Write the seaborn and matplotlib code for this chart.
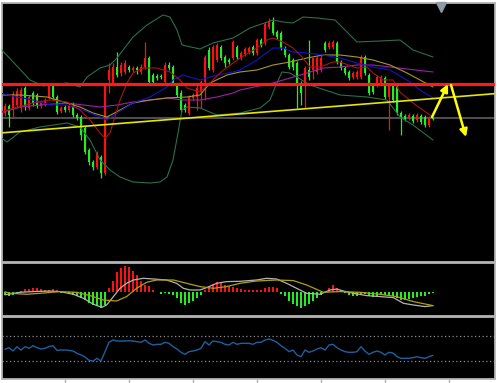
import matplotlib
matplotlib.use("Agg")
import matplotlib.pyplot as plt
import seaborn as sns
import numpy as np
import pandas as pd

# === STYLE ===
sns.set_theme(style="dark", rc={"axes.facecolor": "black", "figure.facecolor": "white",
                                "axes.edgecolor": "#b4b4b4", "axes.grid": False})

# === PRICE DATA (one candle per bar) ===
OPEN = [187, 194, 190, 195, 192, 212, 192, 207, 205, 194, 196, 203, 214, 203, 189, 193, 190, 196, 185, 183,
        172, 150, 138, 133, 143, 127, 220, 217, 233, 227, 228, 233, 230, 232, 228, 233, 242, 225, 224, 224,
        218, 235, 233, 215, 207, 195, 187, 202, 203, 208, 218, 250, 230, 240, 253, 243, 240, 242, 253, 242,
        246, 248, 253, 247, 260, 257, 273, 278, 268, 267, 252, 245, 240, 237, 217, 215, 230, 230, 228, 230,
        257, 253, 253, 257, 238, 232, 228, 223, 223, 223, 243, 225, 215, 215, 217, 222, 203, 215, 215, 187,
        184, 182, 184, 180, 184, 183, 175, 182]
HIGH = [197, 196, 209, 212, 213, 214, 205, 209, 207, 200, 202, 216, 216, 205, 194, 195, 197, 198, 187, 185,
        174, 152, 140, 149, 145, 217, 237, 237, 248, 238, 240, 235, 234, 234, 236, 258, 244, 227, 226, 226,
        238, 238, 235, 217, 210, 197, 205, 207, 215, 220, 245, 253, 255, 257, 255, 245, 242, 260, 255, 249,
        253, 254, 255, 262, 262, 278, 282, 283, 270, 269, 254, 247, 242, 239, 219, 234, 260, 232, 244, 245,
        259, 259, 260, 259, 240, 234, 230, 229, 230, 245, 245, 227, 217, 225, 225, 224, 217, 217, 217, 189,
        186, 187, 186, 187, 186, 185, 184, 183]
LOW = [184, 173, 182, 192, 188, 190, 190, 194, 192, 192, 194, 201, 201, 186, 187, 188, 188, 183, 180, 160,
       146, 135, 130, 131, 122, 125, 207, 214, 223, 224, 226, 228, 228, 226, 226, 231, 216, 216, 220, 221,
       216, 230, 215, 203, 188, 188, 185, 200, 190, 192, 200, 230, 228, 238, 240, 233, 236, 240, 241, 240,
       244, 246, 245, 245, 253, 255, 271, 265, 261, 250, 243, 231, 230, 192, 195, 192, 220, 221, 226, 228,
       248, 251, 251, 236, 230, 225, 220, 221, 221, 221, 225, 205, 206, 213, 215, 201, 170, 198, 185, 165,
       179, 180, 177, 178, 176, 173, 173, 180]
CLOSE = [194, 185, 206, 209, 210, 193, 203, 197, 194, 198, 200, 214, 203, 188, 192, 190, 195, 185, 182, 165,
         148, 138, 133, 147, 127, 216, 230, 233, 225, 235, 237, 230, 232, 230, 233, 242, 218, 218, 222, 223,
         235, 232, 217, 205, 190, 190, 203, 205, 212, 218, 243, 232, 253, 255, 242, 237, 238, 258, 243, 247,
         251, 252, 247, 260, 255, 276, 279, 267, 263, 252, 245, 233, 233, 217, 207, 232, 223, 242, 242, 242,
         250, 257, 258, 238, 232, 227, 222, 227, 228, 243, 227, 207, 208, 223, 223, 203, 215, 200, 187, 182,
         181, 185, 179, 185, 178, 175, 182, 181]

# === PRICE INDICATORS (bar, price) ===
BB_UP_BARS = [-1.25, 6.25, 9.5, 15.5, 18.75, 20.5, 23.75, 26.25, 28, 32, 35.5, 39.5, 41.25, 43, 44.25, 48.75,
              52, 57, 61.25, 67, 69.5, 72, 74.5, 78, 82.5, 88, 93.75, 98.75, 102, 107]
BB_UP = [252, 220, 214, 217, 213, 223, 232, 235, 242, 263, 275, 285, 283, 270, 255, 251,
         257, 262, 272, 280, 278, 277, 283, 282, 280, 258, 259, 260, 250, 243]
BB_LO_BARS = [-1.25, 0.5, 3.75, 8.75, 15.5, 18.75, 21.25, 23.75, 26.25, 28.75, 32, 36.25, 38.75, 40.5, 42,
              43.25, 44.25, 45.5, 48.75, 53, 58.75, 63.75, 66.25, 67.75, 69.25, 71.25, 76.25, 83.75, 90.5,
              95.5, 98.75, 102, 107]
BB_LO = [163, 158, 168, 173, 177, 173, 160, 140, 130, 123, 118, 117, 118, 123, 140,
         167, 190, 193, 192, 185, 187, 192, 200, 215, 228, 227, 215, 205, 203,
         200, 183, 175, 160]
BLUE_BARS = [-1.25, 3, 7, 11.25, 15.5, 19.5, 23.75, 25.5, 28, 32, 36.25, 40.5, 42, 44.5, 48.75, 53, 57,
             58.75, 63, 67, 69.5, 72, 75.5, 79.5, 83.75, 88, 92, 96.25, 100.5, 103.75, 107]
BLUE = [207, 203, 200, 195, 195, 190, 183, 180, 187, 197, 203, 213, 220, 225, 220, 225, 228,
        230, 240, 252, 252, 248, 247, 245, 242, 237, 233, 230, 220, 210, 202]
RED_BARS = [-1.25, 7, 11.25, 15.5, 18.75, 21.25, 23.75, 25, 26.25, 28.75, 30.5, 32, 34.5, 38, 41.25, 43.75,
            45.5, 48.75, 51.25, 53.75, 57, 60, 63, 65.5, 67, 69.5, 72, 74.5, 76.25, 78.75, 82, 83.75, 88,
            90.5, 92, 94.5, 97, 98.75, 102, 105.5, 107]
RED = [188, 197, 200, 198, 190, 180, 167, 162, 167, 200, 217, 227, 232, 232, 228, 220,
       212, 208, 217, 227, 237, 245, 252, 260, 262, 258, 252, 242, 233, 233, 238, 238, 232,
       233, 227, 220, 220, 208, 197, 187, 183]
OLIVE_BARS = [-1.25, 3.75, 10.5, 15.5, 18.75, 22, 25.5, 28.75, 32, 36.25, 40.5, 45.5, 48.75, 51.25, 55.5,
              58.75, 63, 67, 71.25, 75.5, 79.5, 83.75, 88, 92, 96.25, 100.5, 103.75, 107]
OLIVE = [205, 205, 203, 197, 193, 187, 183, 190, 197, 200, 202, 203, 205, 217, 225,
         228, 230, 235, 238, 242, 245, 245, 243, 240, 235, 227, 220, 213]
PURPLE_BARS = [-1.25, 3.75, 8.75, 15.5, 23.75, 28, 32, 36.25, 40.5, 44.5, 48.75, 53, 57, 58.75, 67, 75.5,
               79.5, 83.75, 88, 92, 96.25, 100.5, 107]
PURPLE = [187, 193, 195, 197, 193, 195, 198, 200, 202, 200, 200, 203, 207, 210, 217, 227,
          232, 233, 235, 235, 233, 231, 228]

# === DRAWN OBJECTS ===
RESIST_LEVEL = 216
LAST_PRICE = 182
TREND_BARS = [-1.25, 123]
TREND_PRICES = [167, 206.5]
ARROW_UP = [(106.75, 183), (110.75, 216)]
ARROW_DOWN = [(111.5, 215), (115.25, 163)]
SHIFT_BAR = 109
TIME_TICKS = [15, 31, 47, 63, 79, 95, 111]

# === MACD ===
MACD_HIST = [-3, -4, -3, -2, 1, 3, 3, 4, 4, 3, 2, 2, 3, 2, -0.5, -1, -2, -3, -4, -6,
             -8, -11, -13, -14, -16, -13, 4, 11, 20, 24, 26, 25, 21, 17, 11, 7, 6, 2, 0.5, -2,
             -1, -2, -3, -6, -11, -13, -11, -9, -6, -3, 2, 5, 8, 10, 9, 7, 6, 5, 4, 3,
             2, 2, 2, 2, 2, 4, 5, 5, 4, -2, -4, -9, -12, -14, -16, -14, -12, -9, -6, -3,
             0.5, 4, 7, 4, 2, -1, -3, -4, -4, -2, -2, -4, -5, -4, -3, -3, -4, -4, -6, -8,
             -8, -7, -6, -5, -4, -4, -2, -1]
MACD_BARS = [0, 3.75, 7.1, 11.25, 13.75, 17.1, 19.6, 22.1, 24.2, 25.4, 27.1, 28.75, 30.4, 32.1, 34.6, 37.1,
             40.4, 42.9, 44.6, 46.25, 48.75, 50.4, 52.9, 55.4, 58.75, 62.9, 65.4, 67.9, 70.4, 72.9, 75.4,
             78.75, 81.25, 82.9, 84.6, 87.1, 90.4, 93.75, 97.1, 99.6, 102.1, 105, 107]
MACD_MAIN = [-2.5, 0, 0.7, 1.3, 0.7, -2, -6, -12, -15, -12.7, -4.3, 4, 9, 12.3, 14, 13.3,
             12.3, 9, 4, 2.3, 2.3, 4.7, 9, 10.7, 11, 12.3, 14, 13.3, 9, 4, -1,
             -2, 2.3, 3.3, 1.3, -1, -3.3, -4.3, -5.3, -11, -12.7, -14.3, -13.3]
SIGNAL_BARS = [0, 1.25, 5.4, 8.75, 13.75, 17.9, 21.25, 24.6, 27.9, 30.4, 32.9, 35.4, 37.9, 42.1, 45.4, 48.75,
               52.1, 55.4, 58.75, 62.9, 67.9, 72.1, 75.4, 79.6, 83.75, 88.75, 93.75, 97.9, 102.1, 107]
MACD_SIGNAL = [0.5, -1, -2, -1, 0.7, 0, -3.3, -7.7, -8.7, -4.3, 4, 10, 12.3, 12.3, 9, 5.7,
               4, 5.7, 9, 11.3, 12.3, 11.7, 7.3, 0, 0.7, 0, -2, -4.3, -9.3, -13.3]

# === RSI ===
RSI = [48.7, 51.3, 46, 52.9, 47.6, 52.9, 50.3, 54.5, 51.3, 49.2, 50.3, 52.9, 54.5, 47, 47.6, 47.6, 47, 46, 42.3, 39.6,
       36.4, 31.1, 30, 34.3, 30, 44.9, 59.9, 63.6, 62, 62, 62, 62.5, 62, 60.9, 59.9, 63.6, 58.3, 55.6, 56.7, 56.7,
       59.9, 58.3, 52.9, 49.2, 43.9, 40.7, 44.9, 46, 47.6, 50.3, 60.9, 55.6, 62, 60.9, 59.9, 56.7, 55.6, 59.9, 56.7, 58.3,
       58.3, 58.3, 56.7, 59.9, 59.9, 63.6, 65.2, 63.1, 59.9, 54.5, 50.3, 44.9, 47.6, 39.6, 36.9, 47.6, 43.9, 46, 49.2, 51.3,
       47.6, 55.6, 56.7, 51.3, 47.6, 44.9, 43.9, 43.9, 44.9, 52.9, 46, 40.7, 43.9, 46, 43.9, 39.6, 43.9, 42.8, 36.9, 34.3,
       34.3, 34.3, 35.3, 36.9, 35.3, 34.3, 36.9, 39.1]
RSI_LEVELS = [70, 30]

# === FIGURE ===
W, H = 497, 383
fig = plt.figure(figsize=(W / 100, H / 100), dpi=100)


def px_axes(left, top, right, bottom):
    return fig.add_axes([left / W, 1 - bottom / H, (right - left) / W, (bottom - top) / H])


ax_p = px_axes(2, 3, 495, 262)
ax_m = px_axes(2, 263, 495, 316)
ax_r = px_axes(2, 317, 495, 379)

XLIM = (-0.75, 122.5)
for ax in (ax_p, ax_m, ax_r):
    ax.set_facecolor("black")
    ax.set_xlim(*XLIM)
    ax.set_xticks([])
    ax.set_yticks([])
    for sp in ax.spines.values():
        sp.set_color("#b4b4b4")
        sp.set_linewidth(1.3)

# --- candles ---
candles = pd.DataFrame({"open": OPEN, "high": HIGH, "low": LOW, "close": CLOSE})
candles["bar"] = candles.index
up = candles["close"] >= candles["open"]
colors = np.where(up, "#ff1010", "#22ee22")
ax_p.vlines(candles["bar"], candles["low"], candles["high"], colors=colors, lw=0.9, zorder=2)
body = (candles["close"] - candles["open"]).abs().clip(lower=1.0)
ax_p.bar(candles["bar"], body, bottom=np.minimum(candles["open"], candles["close"]),
         width=0.72, color=colors, linewidth=0, zorder=2)

# --- indicator lines ---
lines = [
    (BB_UP_BARS, BB_UP, "#2c6e4a"),
    (BB_LO_BARS, BB_LO, "#2c6e4a"),
    (PURPLE_BARS, PURPLE, "#a020a8"),
    (OLIVE_BARS, OLIVE, "#a8962a"),
    (BLUE_BARS, BLUE, "#1414c8"),
    (RED_BARS, RED, "#a81414"),
]
for xs, ys, col in lines:
    sns.lineplot(x=xs, y=ys, ax=ax_p, color=col, linewidth=0.8, sort=False, estimator=None, zorder=3)

ax_p.axhline(LAST_PRICE, color="#505050", lw=1.4, zorder=1)
ax_p.axhline(RESIST_LEVEL, color="#ff1a1a", lw=2.3, zorder=4)
sns.lineplot(x=TREND_BARS, y=TREND_PRICES, ax=ax_p, color="#e6e600", linewidth=1.2, sort=False,
             estimator=None, zorder=4)
for (x0, y0), (x1, y1) in (ARROW_UP, ARROW_DOWN):
    ax_p.annotate("", xy=(x1, y1), xytext=(x0, y0),
                  arrowprops=dict(arrowstyle="-|>", color="#ffff00", lw=1.8, mutation_scale=11,
                                  shrinkA=0, shrinkB=0), zorder=5)
ax_p.set_ylim(38, 297)
ax_p.plot([SHIFT_BAR], [0.985], marker="v", ms=7, color="#8e9aa6", transform=ax_p.get_xaxis_transform(),
          clip_on=False, zorder=6)

# --- MACD ---
bars = np.arange(len(MACD_HIST))
hist = np.array(MACD_HIST)
ax_m.bar(bars, hist, width=0.3, color=np.where(hist >= 0, "#ff1010", "#22ee22"), linewidth=0, zorder=2)
sns.lineplot(x=MACD_BARS, y=MACD_MAIN, ax=ax_m, color="#b4b4b4", linewidth=0.9, sort=False, estimator=None, zorder=3)
sns.lineplot(x=SIGNAL_BARS, y=MACD_SIGNAL, ax=ax_m, color="#b0a010", linewidth=0.9, sort=False, estimator=None, zorder=3)
ax_m.set_ylim(-23.7, 29.3)

# --- RSI ---
for lvl in RSI_LEVELS:
    ax_r.axhline(lvl, color="#8c8c8c", lw=0.9, ls=(0, (1, 2)))
sns.lineplot(x=np.arange(len(RSI)), y=RSI, ax=ax_r, color="#1f5f9f", linewidth=1.0, estimator=None)
ax_r.set_ylim(1.2, 100.4)
ax_r.set_xticks(TIME_TICKS)
ax_r.set_xticklabels([])
ax_r.tick_params(axis="x", bottom=True, direction="out", length=3, width=1, color="#b4b4b4")

for ax in (ax_p, ax_m, ax_r):
    ax.set(xlabel=None, ylabel=None)
    ax.set_xlim(*XLIM)

fig.savefig("out.png", dpi=100, facecolor="white")
